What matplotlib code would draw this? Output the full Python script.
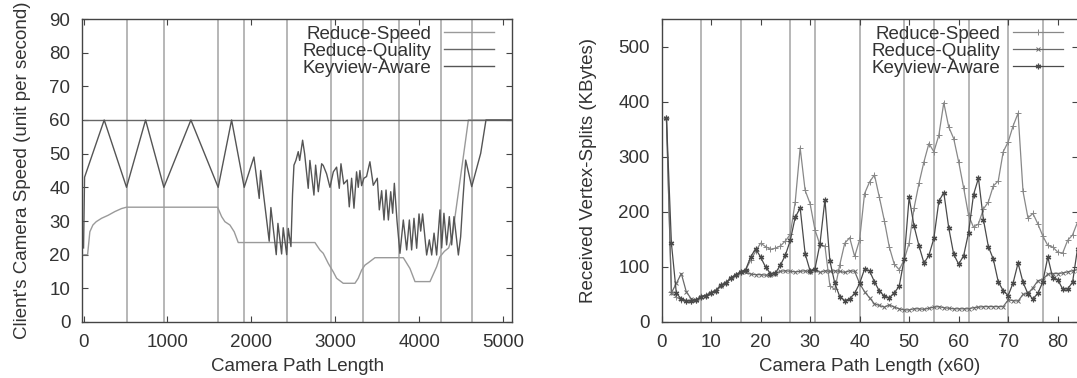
import matplotlib
matplotlib.use("Agg")
import matplotlib.pyplot as plt

plt.rcParams['font.family'] = ['Liberation Sans', 'DejaVu Sans']
plt.rcParams['font.size'] = 13.5

# ---------------- Left chart data ----------------
left_event_x = [512, 961, 1604, 1914, 2420, 2944, 3333, 3762, 4255, 4632]

rq1_x = [0, 5100]
rq1_y = [60, 60]

rs1_x = [0, 48, 75, 111, 151, 214, 293, 373, 453, 512, 1597, 1645, 1684, 1744, 1795,
         1843, 2757, 2816, 2856, 2916, 2975, 3015, 3094, 3234, 3273, 3313, 3353, 3393,
         3472, 3810, 3889, 3949, 4128, 4207, 4247, 4300, 4350, 4390, 4430, 4480, 4530,
         4585, 5100]
rs1_y = [20, 20, 26.8, 28.8, 29.8, 30.8, 31.7, 32.8, 33.7, 34.1, 34.1, 31.3, 29.8, 28.8,
         26.8, 23.6, 23.6, 21.4, 20.4, 17.4, 14.9, 13.0, 11.5, 11.5, 13.0, 15.4, 16.9,
         17.6, 19.1, 19.1, 15.9, 12.0, 12.0, 16.4, 19.4, 21, 22, 25, 32, 41, 50, 60, 60]

kv1_x = [0, 12, 246, 512, 739, 957, 1279, 1604, 1764, 1914, 2030, 2093, 2110, 2212, 2232,
         2296, 2316, 2360, 2379, 2420, 2439, 2471, 2490, 2507, 2530, 2558, 2575, 2610,
         2634, 2677, 2697, 2745, 2765, 2797, 2837, 2856, 2896, 2936, 2976, 3015, 3047,
         3067, 3100, 3142, 3166, 3194, 3222, 3253, 3273, 3293, 3313, 3340, 3372, 3412,
         3452, 3500, 3524, 3552, 3580, 3604, 3632, 3660, 3683, 3703, 3735, 3770, 3810,
         3850, 3882, 3909, 3937, 3969, 3997, 4017, 4040, 4088, 4120, 4148, 4176, 4207,
         4247, 4267, 4294, 4326, 4358, 4386, 4414, 4466, 4493, 4517, 4553, 4625, 4732,
         4795, 5100]
kv1_y = [22, 43, 60, 40, 60, 40, 60, 40, 60, 40, 49, 36.7, 45, 24, 34,
         20, 29.3, 20.2, 28, 20, 27.8, 22.4, 38, 46.6, 48, 50.6, 48, 54,
         50, 39.7, 48, 37.7, 46.6, 38.7, 47, 46.5, 44, 40, 44.6, 46, 39.7,
         47, 41, 42.2, 34.2, 42.7, 33.8, 44.6, 40, 45, 40.5, 42.7, 43.2, 47.6,
         40.6, 42.7, 33.3, 39, 30.3, 39.2, 30.3, 38.7, 32.3, 41.2, 30, 20.4, 30.3,
         21.4, 30.3, 21.4, 30.8, 21.9, 32.1, 27, 32.1, 19.9, 24.4, 19.9, 26.4, 19.9,
         33.3, 22, 32.3, 22.9, 31.3, 22.9, 31.3, 19.9, 25.3, 35.2, 48.1, 40.2, 50.1,
         60, 60]

# ---------------- Right chart data ----------------
right_event_x = [8, 16, 26, 31, 40, 49, 55, 62, 70, 77]
x2 = list(range(1, 85))

rs2 = [370, 55, 45, 40, 38, 39, 40, 47, 49, 54, 58, 67, 72, 80, 86, 91, 95, 112, 128, 143,
       137, 132, 134, 138, 147, 159, 218, 316, 239, 215, 167, 140, 138, 66, 59, 104, 143,
       153, 119, 149, 233, 254, 267, 226, 184, 136, 105, 95, 113, 143, 207, 252, 291, 324,
       309, 339, 398, 354, 333, 291, 244, 194, 172, 178, 205, 218, 247, 256, 309, 327, 356,
       379, 237, 189, 197, 178, 156, 139, 136, 127, 125, 148, 158, 181]
rq2 = [370, 53, 70, 88, 55, 42, 40, 46, 48, 53, 57, 66, 71, 79, 85, 90, 90, 87, 86, 86,
       85, 86, 88, 92, 93, 92, 91, 92, 93, 91, 95, 90, 93, 92, 93, 92, 90, 93, 92, 70,
       55, 44, 33, 30, 27, 31, 27, 24, 22, 22, 24, 24, 23, 25, 27, 28, 26, 25, 24, 24,
       24, 24, 26, 27, 28, 28, 28, 28, 28, 40, 39, 38, 50, 52, 62, 75, 77, 87, 88, 88,
       89, 91, 93, 95]
kv2 = [370, 143, 52, 42, 39, 39, 40, 46, 48, 53, 57, 67, 71, 80, 86, 91, 95, 118, 133, 118,
       100, 88, 89, 103, 121, 148, 190, 207, 124, 93, 97, 142, 222, 111, 70, 46, 39, 42,
       52, 70, 96, 93, 73, 56, 47, 44, 53, 65, 114, 226, 174, 138, 107, 121, 152, 219, 235,
       171, 123, 105, 120, 162, 231, 261, 186, 137, 114, 73, 57, 48, 71, 107, 72, 51, 42,
       52, 73, 118, 80, 77, 60, 60, 72, 133]

labels = ["Reduce-Speed", "Reduce-Quality", "Keyview-Aware"]

TXT = '#333333'
SPINE = '#444444'
EVENT = '#aaaaaa'

fig = plt.figure(figsize=(10.77, 3.78), dpi=100)
W, H = 1077.0, 378.0
axL = fig.add_axes([82.3 / W, 1 - 322 / H, (512 - 82.3) / W, (322 - 19) / H])
axR = fig.add_axes([661.5 / W, 1 - 322 / H, (1077.5 - 661.5) / W, (322 - 19) / H])


def style(ax):
    for s in ax.spines.values():
        s.set_color(SPINE)
        s.set_linewidth(1.0)
    ax.tick_params(direction='in', top=True, right=True, length=4, width=0.8,
                   color=SPINE, labelcolor=TXT, pad=8.5)


# Left
style(axL)
for ex in left_event_x:
    axL.axvline(ex, color=EVENT, lw=1.2, zorder=1)
axL.plot(rs1_x, rs1_y, color='#9a9a9a', lw=1.0, label=labels[0], zorder=3)
axL.plot(rq1_x, rq1_y, color='#666666', lw=1.0, label=labels[1], zorder=3)
axL.plot(kv1_x, kv1_y, color='#555555', lw=1.0, label=labels[2], zorder=4)
axL.set_xlim(-15, 5105)
axL.set_ylim(0, 90)
axL.set_xticks([0, 1000, 2000, 3000, 4000, 5000])
axL.set_yticks(range(0, 91, 10))
axL.set_xlabel("Camera Path Length", color=TXT, labelpad=5)
axL.set_ylabel("Client's Camera Speed (unit per second)", color=TXT, labelpad=13)
legL = axL.legend(loc='upper right', markerfirst=False, frameon=False,
                  handlelength=2.65, handletextpad=0.7, labelspacing=0.0,
                  borderaxespad=0.0, bbox_to_anchor=(0.975, 1.003))
for t in legL.get_texts():
    t.set_color(TXT)

# Right
style(axR)
for ex in right_event_x:
    axR.axvline(ex, color=EVENT, lw=1.2, zorder=1)
axR.plot(x2, rs2, color='#888888', lw=0.9, marker='+', ms=4.5, mew=0.7, label=labels[0], zorder=3)
axR.plot(x2, rq2, color='#6a6a6a', lw=0.9, marker='x', ms=3, mew=0.7, label=labels[1], zorder=3)
axR.plot(x2, kv2, color='#4a4a4a', lw=0.9, marker=(6, 2, 0), ms=4, mew=0.9, label=labels[2], zorder=4)
axR.set_xlim(0, 84)
axR.set_ylim(0, 550)
axR.set_xticks(range(0, 81, 10))
axR.set_yticks(range(0, 501, 100))
axR.set_xlabel("Camera Path Length (x60)", color=TXT, labelpad=5)
axR.set_ylabel("Received Vertex-Splits (KBytes)", color=TXT, labelpad=15)
legR = axR.legend(loc='upper right', markerfirst=False, frameon=False,
                  handlelength=2.65, handletextpad=0.7, labelspacing=0.0,
                  borderaxespad=0.0, bbox_to_anchor=(0.983, 1.003))
for t in legR.get_texts():
    t.set_color(TXT)

fig.savefig("out.png", dpi=100)
